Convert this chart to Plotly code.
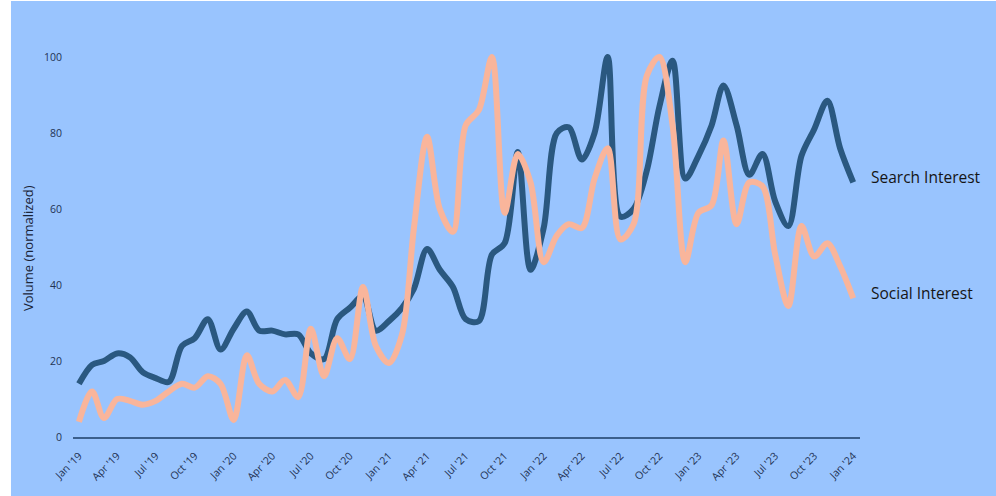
import pandas as pd
import plotly.graph_objects as go

# Monthly observations, Jan 2019 through Jan 2024
months = pd.date_range("2019-01-01", "2024-01-01", freq="MS")

search_interest = [14, 19, 20, 22, 21, 17, 15.5, 14.5, 24, 26, 31, 23,
                   28.5, 33, 28, 28, 27, 27, 22, 20.5, 31, 34, 37, 28,
                   30.5, 34, 39, 49.5, 44, 39.5, 31, 30.5, 48, 51, 75, 44,
                   55, 80, 81.5, 73, 80, 100, 58, 60, 70, 87, 99, 68,
                   74, 82, 92.5, 82, 69, 74.5, 62, 55.5, 74, 81, 88.5, 76,
                   67]

social_interest = [4, 12, 5, 10, 9.5, 8.5, 9.5, 12, 14, 13, 16, 14,
                   4.5, 21.5, 14, 12, 15, 10.5, 28.5, 16, 26, 20.5, 39.5, 24,
                   19.5, 27, 55, 79, 60, 54, 82, 86, 100, 59, 74.5, 67,
                   46, 53, 56, 55, 68, 76, 52, 56, 95, 100, 82, 46,
                   59, 61, 78, 56, 67, 66, 48, 34.5, 55.5, 47.5, 51, 45,
                   36.5]

series_names = ["Search Interest", "Social Interest"]
y_ticks = [0, 20, 40, 60, 80, 100]

BG = "#99C4FE"
TEXT = "#1F3354"
FONT = "Open Sans"
colors = ["#2A5880", "#F9B59B"]

fig = go.Figure()
for name, vals, col in zip(series_names, [search_interest, social_interest], colors):
    fig.add_trace(go.Scatter(
        x=months, y=vals, mode="lines", name=name,
        line=dict(color=col, width=6, shape="spline", smoothing=0.9),
        hoverinfo="x+y+name",
    ))

# End-of-line series labels
for name, vals in zip(series_names, [search_interest, social_interest]):
    fig.add_annotation(
        x=months[-1], y=vals[-1], xref="x", yref="y",
        text=name, showarrow=False, xanchor="left", yanchor="middle",
        xshift=16, yshift=5,
        font=dict(family=FONT, size=15.5, color="#151515"),
    )

# Vertical axis title
fig.add_annotation(
    x=-0.057, y=0.474, xref="paper", yref="paper",
    text="Volume (normalized)", showarrow=False, textangle=-90,
    xanchor="center", yanchor="middle",
    font=dict(family=FONT, size=13, color="#1A2438"),
)

# Narrow white border along the left and top edges
fig.add_shape(type="rect", xref="paper", yref="paper",
              x0=-0.0935, x1=-0.0788, y0=-0.16, y1=1.11,
              fillcolor="white", line=dict(width=0), layer="below")
fig.add_shape(type="rect", xref="paper", yref="paper",
              x0=-0.0935, x1=1.18, y0=1.0925, y1=1.11,
              fillcolor="white", line=dict(width=0), layer="below")

fig.update_layout(
    width=996, height=496,
    margin=dict(l=73, r=136, t=38, b=59, autoexpand=False),
    paper_bgcolor=BG, plot_bgcolor=BG,
    showlegend=False,
    font=dict(family=FONT, color=TEXT),
    xaxis=dict(
        range=["2018-12-18", "2024-01-17"],
        tick0="2019-01-01", dtick="M3", tickformat="%b '%y",
        tickangle=-45, tickfont=dict(size=10.5, color=TEXT),
        showgrid=False, zeroline=False,
        showline=True, linecolor="#3B5F8C", linewidth=1.5,
        ticks="", ticklabelstandoff=7,
    ),
    yaxis=dict(
        range=[0, 105], tickvals=y_ticks,
        tickfont=dict(size=10.5, color=TEXT),
        showgrid=False, zeroline=False, showline=False,
        ticks="", ticklabelstandoff=10,
    ),
)

fig.write_html("out.html")
